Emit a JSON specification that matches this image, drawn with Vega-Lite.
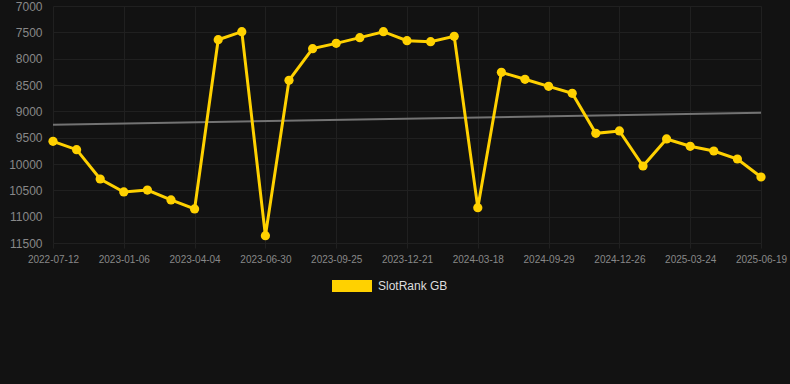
{
  "$schema": "https://vega.github.io/schema/vega-lite/v6.json",
  "width": 708,
  "height": 237,
  "autosize": {"type": "none"},
  "padding": {"left": 53, "top": 6, "right": 29, "bottom": 141},
  "background": "#121212",
  "config": {"view": {"stroke": null}, "font": "Liberation Sans"},
  "datasets": {
    "ranks": [
      {"date": "2022-07-12", "rank": 9569, "series": "SlotRank GB"},
      {"date": "2022-11-09", "rank": 9728, "series": "SlotRank GB"},
      {"date": "2022-12-08", "rank": 10285, "series": "SlotRank GB"},
      {"date": "2023-01-06", "rank": 10531, "series": "SlotRank GB"},
      {"date": "2023-02-04", "rank": 10494, "series": "SlotRank GB"},
      {"date": "2023-03-05", "rank": 10683, "series": "SlotRank GB"},
      {"date": "2023-04-04", "rank": 10854, "series": "SlotRank GB"},
      {"date": "2023-05-03", "rank": 7640, "series": "SlotRank GB"},
      {"date": "2023-06-01", "rank": 7488, "series": "SlotRank GB"},
      {"date": "2023-06-30", "rank": 11361, "series": "SlotRank GB"},
      {"date": "2023-07-29", "rank": 8411, "series": "SlotRank GB"},
      {"date": "2023-08-27", "rank": 7810, "series": "SlotRank GB"},
      {"date": "2023-09-25", "rank": 7709, "series": "SlotRank GB"},
      {"date": "2023-10-24", "rank": 7601, "series": "SlotRank GB"},
      {"date": "2023-11-22", "rank": 7488, "series": "SlotRank GB"},
      {"date": "2023-12-21", "rank": 7658, "series": "SlotRank GB"},
      {"date": "2024-01-19", "rank": 7677, "series": "SlotRank GB"},
      {"date": "2024-02-17", "rank": 7576, "series": "SlotRank GB"},
      {"date": "2024-03-18", "rank": 10829, "series": "SlotRank GB"},
      {"date": "2024-08-01", "rank": 8259, "series": "SlotRank GB"},
      {"date": "2024-08-31", "rank": 8392, "series": "SlotRank GB"},
      {"date": "2024-09-29", "rank": 8525, "series": "SlotRank GB"},
      {"date": "2024-10-28", "rank": 8658, "series": "SlotRank GB"},
      {"date": "2024-11-26", "rank": 9418, "series": "SlotRank GB"},
      {"date": "2024-12-26", "rank": 9373, "series": "SlotRank GB"},
      {"date": "2025-01-24", "rank": 10038, "series": "SlotRank GB"},
      {"date": "2025-02-22", "rank": 9525, "series": "SlotRank GB"},
      {"date": "2025-03-24", "rank": 9664, "series": "SlotRank GB"},
      {"date": "2025-04-22", "rank": 9753, "series": "SlotRank GB"},
      {"date": "2025-05-21", "rank": 9905, "series": "SlotRank GB"},
      {"date": "2025-06-19", "rank": 10247, "series": "SlotRank GB"}
    ],
    "trend": [
      {"date": "2022-07-12", "rank": 9253},
      {"date": "2025-06-19", "rank": 9025}
    ]
  },
  "encoding": {
    "x": {
      "field": "date",
      "type": "ordinal",
      "scale": {"type": "point", "padding": 0},
      "axis": {
        "values": ["2022-07-12", "2023-01-06", "2023-04-04", "2023-06-30", "2023-09-25", "2023-12-21", "2024-03-18", "2024-09-29", "2024-12-26", "2025-03-24", "2025-06-19"],
        "labelAngle": 0,
        "labelFontSize": 10,
        "labelColor": "#888888",
        "labelPadding": 6,
        "title": null,
        "domain": false,
        "ticks": true,
        "tickSize": 5,
        "tickColor": "#202020",
        "grid": true,
        "gridColor": "#202020",
        "labelOverlap": false
      }
    },
    "y": {
      "field": "rank",
      "type": "quantitative",
      "scale": {"domain": [7000, 11500], "reverse": true, "nice": false, "zero": false},
      "axis": {
        "values": [7000, 7500, 8000, 8500, 9000, 9500, 10000, 10500, 11000, 11500],
        "labelFontSize": 12,
        "labelColor": "#888888",
        "labelPadding": 11,
        "labelOverlap": false,
        "labelBound": false,
        "labelFlush": false,
        "title": null,
        "domain": false,
        "ticks": false,
        "grid": true,
        "gridColor": "#202020",
        "format": "d"
      }
    }
  },
  "layer": [
    {
      "data": {"name": "trend"},
      "mark": {"type": "line", "color": "#737373", "strokeWidth": 2}
    },
    {
      "data": {"name": "ranks"},
      "mark": {"type": "line", "color": "#FFD100", "strokeWidth": 3}
    },
    {
      "data": {"name": "ranks"},
      "mark": {"type": "point", "filled": true, "size": 85, "opacity": 1, "shape": "circle"},
      "encoding": {
        "color": {
          "field": "series",
          "type": "nominal",
          "scale": {"range": ["#FFD100"]},
          "legend": {
            "title": null,
            "orient": "none",
            "legendX": 279,
            "legendY": 260,
            "symbolType": "M-1,-0.3H1V0.3H-1Z",
            "symbolSize": 1600,
            "symbolStrokeWidth": 0,
            "symbolOpacity": 1,
            "labelFontSize": 12,
            "labelColor": "#dddddd",
            "labelOffset": 6,
            "padding": 0
          }
        }
      }
    }
  ]
}
